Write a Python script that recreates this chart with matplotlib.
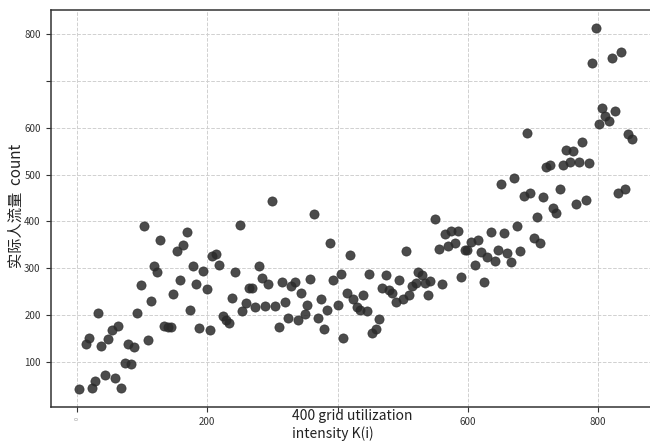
import matplotlib.pyplot as plt
import numpy as np

plt.rcParams['font.family'] = ['Noto Sans CJK SC', 'DejaVu Sans']

# grid utilization intensity K(i) vs observed crowd count
k_vals = [2.6, 23, 28.1, 43.5, 58.4, 68.0, 73.3, 83.4, 13.4, 18.4, 37.3, 48.1, 53.8, 63.0,
          78.3, 88.0, 108.6, 32.7, 92.6, 134.1, 140.2, 143.9, 113.7, 147.9, 97.8, 158.2,
          117.8, 123.3, 153.1, 163.3, 168.5, 103.4, 127.9, 299.1, 249.9, 207.8, 213.5,
          178.2, 193.5, 218.1, 243.2, 279.6, 183.2, 199.2, 284.2, 293.8, 314.9, 263.7,
          269.3, 328.7, 334.4, 344.5, 357.4, 238.5, 259.1, 253.9, 273.9, 289.2, 303.7,
          319.5, 353.3, 173.6, 223.8, 228.9, 233.9, 187.8, 203.8, 309.8, 324.1, 339.5,
          349.8, 363.6, 389.1, 419.3, 504.9, 393.7, 405.0, 449.0, 474.6, 494.6, 524.2,
          530.4, 534.5, 542.2, 374.8, 370.6, 384.5, 400.4, 379.4, 414.7, 423.9, 439.8,
          430.1, 435.2, 445.0, 468.9, 478.8, 484.3, 490.4, 500.3, 509.5, 514.1, 520.7,
          539.1, 464.3, 459.3, 453.6, 409.0, 685.6, 695.8, 715.3, 550.3, 705.5, 675.4,
          564.8, 574.5, 585.7, 635.9, 655.4, 700.9, 710.7, 555.0, 569.9, 580.6, 604.7,
          615.5, 595.5, 598.0, 620.1, 629.8, 645.6, 641.0, 660.1, 665.6, 680.5, 610.3,
          560.2, 589.8, 625.2, 805.4, 826.4, 810.6, 816.7, 800.8, 846.4, 852.1, 775.3,
          750.1, 760.8, 720.4, 726.1, 745.5, 756.3, 770.7, 786.5, 741.5, 840.7, 831.0,
          731.0, 735.8, 766.1, 780.8, 796.1, 791.1, 821.4, 835.7, 690.2, 671.3, 650.2]
counts = [41.8, 44.6, 59.5, 72.4, 65.3, 44.6, 97.3, 95.2, 139.1, 151.9, 134.2, 148.5, 167.7,
          177.5, 139.1, 132.7, 147.0, 204.0, 205.3, 176.9, 175.4, 174.1, 230.9, 244.6,
          265.0, 275.1, 305.0, 292.1, 336.3, 349.8, 378.2, 391.0, 361.1, 443.0, 393.1,
          326.3, 329.9, 304.3, 294.9, 306.4, 292.1, 305.0, 266.5, 255.9, 280.0, 266.5,
          270.2, 257.4, 258.6, 262.9, 270.2, 248.0, 277.8, 236.7, 226.6, 208.3, 216.8,
          219.6, 219.6, 228.8, 221.1, 211.7, 197.6, 189.7, 183.3, 172.6, 168.4, 175.4,
          194.6, 189.1, 202.5, 415.3, 354.7, 328.4, 336.3, 275.7, 287.2, 287.2, 285.1,
          275.7, 292.1, 285.7, 268.0, 273.6, 235.2, 193.3, 211.7, 222.4, 169.9, 246.7,
          234.5, 243.1, 218.1, 211.1, 208.3, 257.4, 253.1, 248.0, 227.5, 233.9, 243.1,
          262.9, 268.7, 243.1, 191.8, 170.5, 162.6, 150.7, 454.3, 461.4, 452.8, 405.2,
          410.2, 390.9, 372.6, 380.3, 379.6, 378.2, 375.4, 365.3, 354.0, 341.2, 347.0,
          354.7, 356.8, 361.1, 339.7, 339.7, 334.8, 324.8, 338.4, 315.6, 332.0, 312.8,
          337.6, 306.4, 266.5, 282.1, 271.4, 641.5, 636.4, 625.1, 614.4, 607.3, 586.6,
          575.9, 568.9, 553.1, 549.7, 516.9, 519.8, 519.8, 527.5, 526.9, 524.8, 468.6,
          469.9, 460.1, 429.4, 418.7, 436.6, 446.4, 812.8, 738.8, 748.2, 761.0, 589.4,
          493.4, 479.3]

x_ticks = [0, 200, 400, 600, 800]
x_labels = ['0', '200', '', '600', '800']
y_ticks = [100, 200, 300, 400, 500, 600, 700, 800]
y_labels = ['100', '200', '300', '400', '500', '600', '', '800']

fig = plt.figure(figsize=(6.5, 4.41), dpi=100)
ax = fig.add_axes([51 / 650, 34 / 441, 620 / 650, 397 / 441])

ax.scatter(k_vals, counts, s=44, color='#2b2b2b', alpha=0.85, edgecolors='#2b2b2b',
           linewidths=0.5, zorder=3)

ax.set_xlim(-40, 912)
ax.set_ylim(4, 851)
ax.set_xticks(x_ticks)
ax.set_xticklabels(x_labels, fontsize=7, color='#333333')
ax.set_yticks(y_ticks)
ax.set_yticklabels(y_labels, fontsize=7, color='#333333')
lab0 = ax.get_xticklabels()[0]
lab0.set_fontsize(4)
lab0.set_rotation(90)
lab0.set_color('#999999')

ax.tick_params(axis='both', length=3.5, width=0.8, color='#333333', pad=4)
ax.grid(True, linestyle='--', color='#d0d0d0', linewidth=0.7, zorder=0)
for sp in ax.spines.values():
    sp.set_color('#333333')
    sp.set_linewidth(1.1)

# axis titles placed where the reference has them
fig.text(16 / 650, 1 - 206 / 441, '实际人流量  count', fontsize=11, rotation=90,
         ha='center', va='center', color='#222222')
fig.text(292 / 650, 1 - 409 / 441, '400 grid utilization\nintensity K(i)', fontsize=10,
         ha='left', va='top', linespacing=1.3, color='#222222')

fig.savefig('out.png', dpi=100)
